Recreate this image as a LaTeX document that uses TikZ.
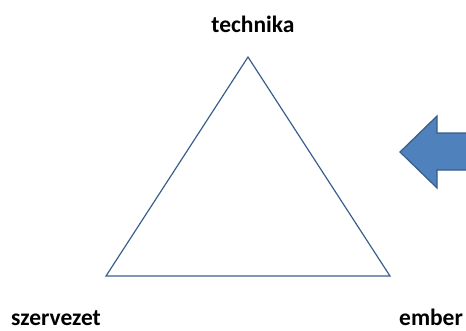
\documentclass[tikz,border=0pt]{standalone}
\usepackage{fontspec}
\setmainfont{Carlito}
\definecolor{edge}{rgb}{0.231, 0.373, 0.549}
\definecolor{blue}{rgb}{0.310, 0.506, 0.741}
\definecolor{darkblue}{rgb}{0.220, 0.365, 0.541}

\begin{document}
\begin{tikzpicture}[x=1pt,y=-1pt]
        \useasboundingbox (0,0) rectangle (466,330);
        \tikzset{label/.style={font=\bfseries\fontsize{23.5}{28}\selectfont,inner sep=0pt}}

        % triangle
        \coordinate (top) at (248,57);
        \coordinate (left) at (106,276);
        \coordinate (right) at (390,276);
        \draw[draw=edge,line width=1.2pt,line join=miter] (top) -- (left) -- (right) -- cycle;

        % corner labels
        \node[label,anchor=base] (technika) at (253,32) {technika};
        \node[label,anchor=base west] (szervezet) at (11,325) {szervezet};
        \node[label,anchor=base west] (ember) at (399,325) {ember};

        % arrow, cut off at the right edge
        \begin{scope}
            \clip (0,0) rectangle (466,330);
            \draw[draw=darkblue,fill=blue,line width=1.2pt,line join=miter]
                (400,152) -- (437,116) -- (437,133) -- (480,133) -- (480,170) -- (437,170) -- (437,188) -- cycle;
        \end{scope}
    \end{tikzpicture}
\end{document}
